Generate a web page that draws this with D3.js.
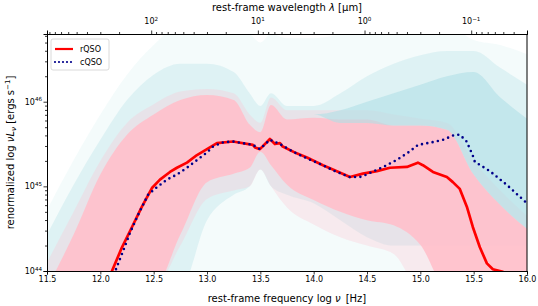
<!DOCTYPE html>
<html>
<head>
<meta charset="utf-8">
<script src="https://cdn.jsdelivr.net/npm/d3@7"></script>
<style>
  body { margin: 0; background: #fff; }
  svg text { font-family: "DejaVu Sans", sans-serif; fill: #000; }
</style>
</head>
<body>
<svg id="chart" width="538" height="306"></svg>
<script>
// log nu grid shared by the ensemble bands
const bandNu = [11.5, 11.75, 12.0, 12.25, 12.5, 12.75, 13.0, 13.25, 13.4, 13.5, 13.6, 13.75, 14.0, 14.25, 14.5, 14.75, 15.0, 15.25, 15.5, 15.75, 16.0];

// cQSO ensemble (light blue), log nuL_nu envelopes
const cyanOuterLo = [43.8, 43.8, 43.8, 43.8, 43.8, 43.8, 43.8, 43.8, 43.8, 43.8, 43.8, 43.8, 43.8, 43.8, 43.8, 43.8, 43.8, 43.8, 43.8, 43.8, 43.8];
const cyanOuterHi = [44.72, 45.31, 45.85, 46.32, 46.67, 46.9, 46.9, 46.9, 46.8, 46.7, 46.8, 46.75, 46.75, 46.8, 46.9, 46.9, 46.9, 46.9, 46.73, 46.67, 46.56];
const cyanMidLo = [43.8, 43.8, 43.8, 43.8, 43.8, 43.8, 44.6, 44.9, 45.0, 45.2, 45.0, 44.9, 44.8, 44.6, 44.4, 44.3, 44.3, 44.3, 44.3, 44.3, 44.3];
const cyanMidHi = [44.43, 45.02, 45.55, 46.02, 46.32, 46.45, 46.45, 46.35, 46.1, 45.95, 46.1, 45.95, 45.95, 46.1, 46.3, 46.45, 46.55, 46.6, 46.6, 46.4, 46.2];
const cyanCoreLo = [45.85, 45.85, 45.85, 45.85, 45.85, 45.85, 45.85, 45.85, 45.85, 45.85, 45.85, 45.85, 45.85, 45.75, 45.75, 45.72, 45.72, 45.67, 45.14, 44.78, 44.5];
const cyanCoreHi = [45.85, 45.85, 45.85, 45.85, 45.85, 45.85, 45.85, 45.85, 45.85, 45.85, 45.85, 45.85, 45.85, 45.9, 46.0, 46.1, 46.2, 46.3, 46.35, 46.05, 45.8];

// rQSO ensemble (pink)
const pinkOuterLo = [43.8, 43.8, 43.8, 43.8, 43.8, 44.3, 44.85, 44.95, 45.0, 45.2, 45.0, 44.75, 44.55, 44.4, 44.3, 44.2, 43.8, 43.8, 43.8, 43.8, 43.8];
const pinkOuterHi = [44.1, 44.7, 45.3, 45.75, 45.97, 46.12, 46.15, 46.1, 45.85, 45.75, 46.05, 45.9, 45.9, 45.9, 45.9, 45.85, 45.8, 45.75, 45.3, 44.95, 44.65];
const pinkCoreLo = [43.8, 43.8, 43.8, 43.8, 43.8, 44.43, 45.05, 45.15, 45.22, 45.41, 45.25, 45.02, 44.84, 44.7, 44.6, 44.54, 44.31, 43.8, 43.8, 43.8, 43.8];
const pinkCoreHi = [43.8, 44.43, 45.14, 45.61, 45.85, 46.02, 46.08, 46.02, 45.73, 45.64, 45.96, 45.79, 45.81, 45.79, 45.79, 45.72, 45.72, 45.67, 45.14, 44.78, 44.5];

// mean SEDs
const rqsoNu = [12.09, 12.109, 12.203, 12.297, 12.39, 12.484, 12.559, 12.653, 12.718, 12.812, 12.906, 13.0, 13.093, 13.243, 13.43, 13.45, 13.496, 13.59, 13.637, 13.684, 13.71, 13.84, 13.937, 14.087, 14.18, 14.34, 14.462, 14.593, 14.715, 14.874, 14.977, 15.024, 15.118, 15.249, 15.305, 15.37, 15.436, 15.492, 15.558, 15.624, 15.68, 15.774, 15.8];
const rqsoL = [43.95, 44.0, 44.28, 44.52, 44.76, 44.98, 45.08, 45.17, 45.22, 45.28, 45.37, 45.44, 45.51, 45.53, 45.49, 45.46, 45.44, 45.56, 45.5, 45.51, 45.47, 45.39, 45.34, 45.25, 45.2, 45.11, 45.15, 45.18, 45.22, 45.23, 45.28, 45.25, 45.17, 45.11, 45.05, 44.97, 44.76, 44.52, 44.28, 44.09, 44.02, 43.99, 43.97];
const cqsoNu = [12.12, 12.137, 12.212, 12.278, 12.353, 12.447, 12.531, 12.625, 12.718, 12.812, 12.906, 13.0, 13.056, 13.15, 13.243, 13.43, 13.496, 13.59, 13.684, 13.805, 13.937, 14.087, 14.18, 14.34, 14.433, 14.497, 14.652, 14.777, 14.886, 14.98, 15.106, 15.214, 15.324, 15.371, 15.434, 15.49, 15.511, 15.652, 15.808, 16.0];
const cqsoL = [43.97, 43.99, 44.23, 44.45, 44.66, 44.9, 44.99, 45.08, 45.14, 45.22, 45.31, 45.4, 45.47, 45.52, 45.53, 45.49, 45.44, 45.55, 45.5, 45.41, 45.33, 45.25, 45.19, 45.11, 45.11, 45.14, 45.23, 45.31, 45.4, 45.49, 45.52, 45.55, 45.61, 45.61, 45.53, 45.37, 45.29, 45.18, 45.02, 44.8];

// axis ticks
const xTicks = [11.5, 12.0, 12.5, 13.0, 13.5, 14.0, 14.5, 15.0, 15.5, 16.0];
const yMajor = [44, 45, 46];
const lambdaMajor = [2, 1, 0, -1];

const svg = d3.select('#chart');
const plot = { left: 47, right: 527, top: 34, bottom: 271 };

const x = d3.scaleLinear().domain([11.5, 16]).range([plot.left, plot.right]);
const y = d3.scaleLog().domain([1e44, Math.pow(10, 46.8)]).range([plot.bottom, plot.top]);
const logC = Math.log10(2.998e14); // um/s

svg.append('clipPath').attr('id', 'clip')
  .append('rect')
  .attr('x', plot.left).attr('y', plot.top)
  .attr('width', plot.right - plot.left).attr('height', plot.bottom - plot.top);

const g = svg.append('g').attr('clip-path', 'url(#clip)');

function band(lo, hi) {
  return d3.area()
    .x((d, i) => x(bandNu[i]))
    .y0((d, i) => y(Math.pow(10, lo[i])))
    .y1((d, i) => y(Math.pow(10, hi[i])))
    .curve(d3.curveMonotoneX)(bandNu);
}

g.append('path').attr('d', band(cyanOuterLo, cyanOuterHi)).attr('fill', '#b0e0e6').attr('opacity', 0.14);
g.append('path').attr('d', band(cyanMidLo, cyanMidHi)).attr('fill', '#b0e0e6').attr('opacity', 0.32);
g.append('path').attr('d', band(pinkOuterLo, pinkOuterHi)).attr('fill', '#ffc0cb').attr('opacity', 0.28);
g.append('path').attr('d', band(pinkCoreLo, pinkCoreHi)).attr('fill', '#ffc0cb').attr('opacity', 0.92);
g.append('path').attr('d', band(cyanCoreLo, cyanCoreHi)).attr('fill', '#b0e0e6').attr('opacity', 0.6);

const line = d3.line()
  .x(d => x(d[0]))
  .y(d => y(Math.pow(10, d[1])));

g.append('path')
  .attr('d', line(rqsoNu.map((v, i) => [v, rqsoL[i]])))
  .attr('fill', 'none')
  .attr('stroke', '#ff0000')
  .attr('stroke-width', 2.7)
  .attr('stroke-linejoin', 'round');

g.append('path')
  .attr('d', line(cqsoNu.map((v, i) => [v, cqsoL[i]])))
  .attr('fill', 'none')
  .attr('stroke', '#00008b')
  .attr('stroke-width', 2.6)
  .attr('stroke-linecap', 'round')
  .attr('stroke-dasharray', '0,5.4');

// bottom axis
const xAxis = svg.append('g')
  .attr('transform', `translate(0,${plot.bottom})`)
  .call(d3.axisBottom(x).tickValues(xTicks).tickFormat(d3.format('.1f')).tickSize(3.5).tickPadding(2));

// left axis, log minor ticks
const yMinor = [];
for (let e = 44; e <= 46; e++) for (let m = 2; m <= 9; m++) {
  const v = m * Math.pow(10, e);
  if (v <= y.domain()[1]) yMinor.push(v);
}
svg.append('g')
  .attr('transform', `translate(${plot.left},0)`)
  .call(d3.axisLeft(y).tickValues(yMinor).tickFormat('').tickSize(2));
svg.append('g')
  .attr('transform', `translate(${plot.left},0)`)
  .call(d3.axisLeft(y).tickValues(yMajor.map(e => Math.pow(10, e))).tickFormat('').tickSize(3.5));

yMajor.forEach(e => {
  const t = svg.append('text')
    .attr('x', plot.left - 5)
    .attr('y', y(Math.pow(10, e)) + 3)
    .attr('text-anchor', 'end')
    .style('font-size', '8px');
  t.append('tspan').text('10');
  t.append('tspan').attr('dy', -3.5).style('font-size', '5.6px').text(e);
});

// top axis: wavelength in um
const topMinor = [];
for (let k = -2; k <= 2; k++) for (let m = 2; m <= 9; m++) {
  const nu = logC - Math.log10(m * Math.pow(10, k));
  if (nu >= 11.5 && nu <= 16.0001) topMinor.push(nu);
}
svg.append('g')
  .attr('transform', `translate(0,${plot.top})`)
  .call(d3.axisTop(x).tickValues(topMinor).tickFormat('').tickSize(2));
svg.append('g')
  .attr('transform', `translate(0,${plot.top})`)
  .call(d3.axisTop(x).tickValues(lambdaMajor.map(k => logC - k)).tickFormat('').tickSize(3.5));

lambdaMajor.forEach(k => {
  const t = svg.append('text')
    .attr('x', x(logC - k))
    .attr('y', plot.top - 10)
    .attr('text-anchor', 'middle')
    .style('font-size', '8px');
  t.append('tspan').text('10');
  t.append('tspan').attr('dy', -3.5).style('font-size', '5.6px').text(k < 0 ? '\u2212' + (-k) : k);
});

// right spine
svg.append('line')
  .attr('x1', plot.right).attr('x2', plot.right)
  .attr('y1', plot.top).attr('y2', plot.bottom)
  .attr('stroke', '#000').attr('stroke-width', 1);

svg.selectAll('.domain').attr('stroke', '#000').attr('stroke-width', 1);
svg.selectAll('.tick line').attr('stroke', '#000').attr('stroke-width', 0.8);
xAxis.selectAll('.tick text').style('font-size', '8px').style('font-family', '"DejaVu Sans", sans-serif');

// axis labels
const xl = svg.append('text')
  .attr('x', (plot.left + plot.right) / 2).attr('y', 302)
  .attr('text-anchor', 'middle').style('font-size', '10px');
xl.append('tspan').text('rest-frame frequency log ');
xl.append('tspan').style('font-style', 'italic').text('\u03bd');
xl.append('tspan').text('\u2002[Hz]');

const tl = svg.append('text')
  .attr('x', (plot.left + plot.right) / 2).attr('y', 11)
  .attr('text-anchor', 'middle').style('font-size', '10px');
tl.append('tspan').text('rest-frame wavelength ');
tl.append('tspan').style('font-style', 'italic').text('\u03bb');
tl.append('tspan').text(' [\u03bcm]');

const yl = svg.append('text')
  .attr('transform', `translate(14,${(plot.top + plot.bottom) / 2}) rotate(-90)`)
  .attr('text-anchor', 'middle').style('font-size', '10px');
yl.append('tspan').text('renormalized log ');
yl.append('tspan').style('font-style', 'italic').text('\u03bdL');
yl.append('tspan').attr('dy', 2).style('font-size', '7px').style('font-style', 'italic').text('\u03bd');
yl.append('tspan').attr('dy', -2).text(' [ergs s');
yl.append('tspan').attr('dy', -4).style('font-size', '7px').text('\u22121');
yl.append('tspan').attr('dy', 4).text(']');

// legend
const legend = svg.append('g').attr('transform', 'translate(51,39)');
legend.append('rect')
  .attr('width', 58).attr('height', 31).attr('rx', 2)
  .attr('fill', '#fff').attr('fill-opacity', 0.8)
  .attr('stroke', '#d0d0d0').attr('stroke-width', 0.8);
const items = [
  { label: 'rQSO', color: '#ff0000', dash: null },
  { label: 'cQSO', color: '#00008b', dash: '0,4' }
];
items.forEach((it, i) => {
  const yy = 10 + i * 13;
  legend.append('line')
    .attr('x1', 4).attr('x2', 22).attr('y1', yy).attr('y2', yy)
    .attr('stroke', it.color).attr('stroke-width', 2.2)
    .attr('stroke-linecap', it.dash ? 'round' : 'butt')
    .attr('stroke-dasharray', it.dash);
  legend.append('text')
    .attr('x', 29).attr('y', yy + 3)
    .style('font-size', '8px').text(it.label);
});
</script>
</body>
</html>
